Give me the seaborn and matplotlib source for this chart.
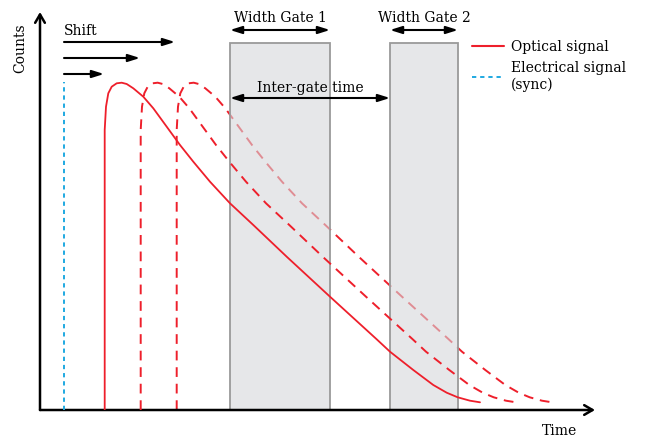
import numpy as np
import pandas as pd
import matplotlib
matplotlib.use("Agg")
import matplotlib.pyplot as plt
import seaborn as sns
from matplotlib.lines import Line2D
from matplotlib.patches import Rectangle

# optical pulse shape (time, counts)
pulse_time = [64.7, 64.7, 64.7, 66, 68.3, 71.7, 76.7, 81.7, 86.7, 93.3, 103.3, 113.3,
              126.7, 140, 153.3, 170, 190, 213.3, 246.7, 290, 336.7, 350, 373.3,
              393.3, 406.7, 417.7, 430, 440]
pulse_counts = [0, 263, 280, 303.3, 316.7, 323.3, 326.7, 327.3, 326, 321.7, 313.3, 301.7,
                283.3, 265, 248.3, 228.3, 206.7, 185, 153.3, 113.3, 70.7, 58.3, 40,
                25, 17.3, 12.7, 9.3, 7.7]
shifts = [0, 36, 72]

sync_time = 24
sync_height = 328

gate_start = [190, 350]
gate_width = [100, 68]
gate_height = 367

shift_arrow_end = [135, 100, 64]
shift_arrow_y = [368, 352, 336]

RED = '#ee1f2b'
BLUE = '#1fa9e1'

sns.set_style('white')
plt.rcParams['font.family'] = ['DejaVu Serif']
plt.rcParams['text.color'] = 'black'

W, H = 647, 438
fig = plt.figure(figsize=(W / 100, H / 100), dpi=100)
x0, x1, y0, y1 = 40, 595, 410, 12
ax = fig.add_axes([x0 / W, 1 - y0 / H, (x1 - x0) / W, (y0 - y1) / H])
ax.set_xlim(0, x1 - x0)
ax.set_ylim(0, y0 - y1)
ax.axis('off')

rows = []
for i, s in enumerate(shifts):
    for t, c in zip(pulse_time, pulse_counts):
        rows.append({'time': t + s, 'counts': c, 'curve': i})
df = pd.DataFrame(rows)

# curves: solid original and dashed shifted copies
for i in range(len(shifts)):
    sub = df[df.curve == i]
    if i == 0:
        sns.lineplot(data=sub, x='time', y='counts', estimator=None, sort=False,
                     color=RED, lw=1.3, ax=ax, zorder=5)
    else:
        sns.lineplot(data=sub, x='time', y='counts', estimator=None, sort=False,
                     color=RED, lw=1.4, ax=ax, zorder=5 if i == 1 else 1,
                     linestyle=(0, (5, 3.5)))

# gates (drawn over the last dashed curve)
for gs, gw in zip(gate_start, gate_width):
    ax.add_patch(Rectangle((gs, 0), gw, gate_height, facecolor='#d6d8db',
                           edgecolor='none', alpha=0.6, zorder=3))
    ax.add_patch(Rectangle((gs, 0), gw, gate_height, facecolor='none',
                           edgecolor='#9a9a9a', lw=1.3, zorder=3))

# sync line
ax.plot([sync_time, sync_time], [0, sync_height], color=BLUE, lw=1.4,
        linestyle=(0, (2.2, 2)), zorder=4)

# axes arrows
ax.annotate('', xy=(x1 - x0, 0), xytext=(0, 0),
            arrowprops=dict(arrowstyle='->,head_length=0.6,head_width=0.35', lw=1.8, color='black',
                            shrinkA=0, shrinkB=0))
ax.annotate('', xy=(0, y0 - y1), xytext=(0, 0),
            arrowprops=dict(arrowstyle='->,head_length=0.6,head_width=0.35', lw=1.8, color='black',
                            shrinkA=0, shrinkB=0))

# shift arrows
for xe, ya in zip(shift_arrow_end, shift_arrow_y):
    ax.annotate('', xy=(xe, ya), xytext=(sync_time, ya),
                arrowprops=dict(arrowstyle='-|>,head_length=0.7,head_width=0.22', lw=1.5,
                                color='black', shrinkA=0, shrinkB=0))
ax.text(sync_time, shift_arrow_y[0] + 4, 'Shift', fontsize=10, va='bottom', ha='left')

# gate width arrows
for k, (gs, gw) in enumerate(zip(gate_start, gate_width)):
    ax.annotate('', xy=(gs + gw, 380), xytext=(gs, 380),
                arrowprops=dict(arrowstyle='<|-|>,head_length=0.7,head_width=0.22', lw=1.5,
                                color='black', shrinkA=0, shrinkB=0))
    ax.text(gs + gw / 2, 385, 'Width Gate %d' % (k + 1), fontsize=10,
            ha='center', va='bottom')

# inter-gate arrow
ax.annotate('', xy=(gate_start[1], 312), xytext=(gate_start[0], 312),
            arrowprops=dict(arrowstyle='<|-|>,head_length=0.7,head_width=0.22', lw=1.5,
                            color='black', shrinkA=0, shrinkB=0), zorder=6)
ax.text((gate_start[0] + gate_start[1]) / 2, 315, 'Inter-gate time', fontsize=10,
        ha='center', va='bottom', zorder=6)

fig.text(20 / W, 1 - 48 / H, 'Counts', rotation=90, fontsize=10, ha='center', va='center')
fig.text(560 / W, 1 - 431 / H, 'Time', fontsize=10, ha='center', va='center')

handles = [Line2D([], [], color=RED, lw=1.5),
           Line2D([], [], color=BLUE, lw=1.4, linestyle=(0, (2.2, 2)))]
fig.legend(handles, ['Optical signal', 'Electrical signal\n(sync)'], frameon=False,
           loc='upper left', bbox_to_anchor=(472 / W, 1 - 40 / H), borderpad=0,
           borderaxespad=0, handlelength=2.3, handletextpad=0.5, labelspacing=0.5,
           fontsize=10)

fig.savefig('out.png', dpi=100)
